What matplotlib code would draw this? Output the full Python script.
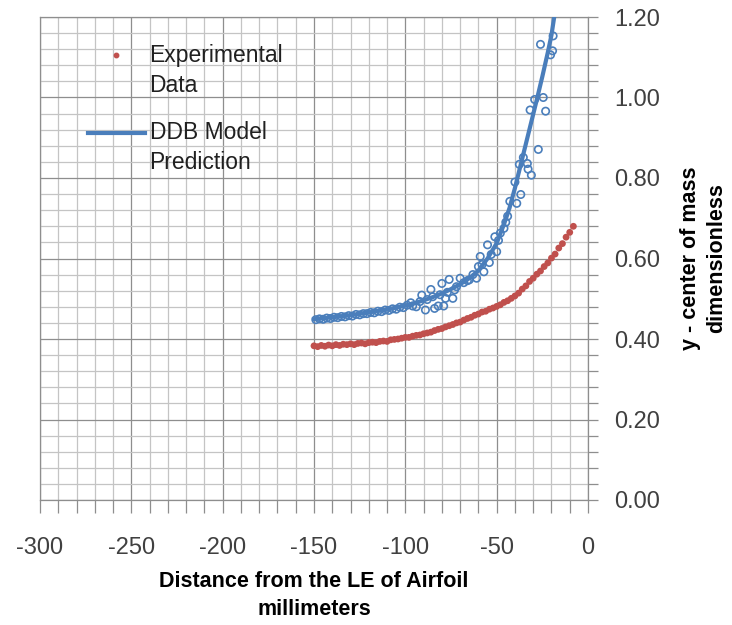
import matplotlib
matplotlib.use("Agg")
import matplotlib.pyplot as plt
from matplotlib.ticker import MultipleLocator, FormatStrFormatter

plt.rcParams['font.family'] = ['Liberation Sans', 'DejaVu Sans']
plt.rcParams['axes.unicode_minus'] = False

# experimental y-centre of mass along the chord (red dots)
exp_x = [-150, -148, -146, -144, -142, -140, -138, -136, -134, -132,
         -130, -128, -126, -124, -122, -120, -118, -116, -114, -112,
         -110, -108, -106, -104, -102, -100, -98, -96, -94, -92,
         -90, -88, -86, -84, -82, -80, -78, -76, -74, -72,
         -70, -68, -66, -64, -62, -60, -58, -56, -54, -52,
         -50, -48, -46, -44, -42, -40, -38, -36, -34, -32,
         -30, -28, -26, -24, -22, -20, -18, -16, -14, -12,
         -10, -8]
exp_y = [0.383, 0.381, 0.384, 0.382, 0.385, 0.383, 0.386, 0.384, 0.387, 0.386,
         0.388, 0.386, 0.389, 0.390, 0.388, 0.391, 0.392, 0.391, 0.394, 0.395,
         0.394, 0.398, 0.399, 0.400, 0.402, 0.404, 0.404, 0.407, 0.409, 0.410,
         0.413, 0.415, 0.417, 0.421, 0.424, 0.426, 0.430, 0.433, 0.436, 0.440,
         0.442, 0.447, 0.451, 0.454, 0.459, 0.462, 0.467, 0.469, 0.474, 0.477,
         0.481, 0.485, 0.491, 0.495, 0.501, 0.507, 0.514, 0.524, 0.532, 0.543,
         0.551, 0.561, 0.569, 0.580, 0.589, 0.601, 0.611, 0.626, 0.637, 0.653,
         0.665, 0.680]

# second measured set (open blue circles)
meas_x = [-149, -147, -145, -143, -141, -139, -137, -135, -133, -131,
          -129, -127, -125, -123, -121, -119, -117, -115, -113, -111,
          -109, -107, -105, -103, -101, -99, -97, -96, -94, -92,
          -91, -89, -88, -86, -85, -84, -82, -81, -80, -79,
          -78, -77, -76, -74, -73, -72, -70, -68, -66, -65,
          -63, -61, -60, -59, -58, -57, -55, -54, -53, -51,
          -50, -49, -48, -46, -45, -44, -42.8, -40, -39, -37.6,
          -36.8, -35.4, -33.2, -32.8, -31.7, -31, -29.2, -27.2, -26, -24.5,
          -23.2, -20.5, -19.4, -19.1]
meas_y = [0.448, 0.450, 0.449, 0.452, 0.451, 0.454, 0.453, 0.456, 0.455, 0.458,
          0.457, 0.461, 0.460, 0.463, 0.463, 0.466, 0.465, 0.469, 0.468, 0.472,
          0.471, 0.475, 0.474, 0.479, 0.478, 0.484, 0.490, 0.482, 0.480, 0.493,
          0.509, 0.472, 0.498, 0.523, 0.505, 0.476, 0.482, 0.510, 0.538, 0.482,
          0.501, 0.516, 0.548, 0.501, 0.522, 0.530, 0.551, 0.540, 0.545, 0.547,
          0.560, 0.551, 0.580, 0.605, 0.585, 0.567, 0.634, 0.590, 0.610, 0.654,
          0.617, 0.645, 0.663, 0.675, 0.690, 0.705, 0.742, 0.790, 0.737, 0.834,
          0.759, 0.851, 0.836, 0.822, 0.969, 0.807, 0.995, 0.871, 1.132, 1.000,
          0.966, 1.106, 1.116, 1.153]

# DDB model prediction (blue line)
model_x = [-150, -140, -130, -120, -110, -100, -95, -90, -85, -80,
           -75, -70, -65, -60, -55, -50, -46, -43, -40, -37,
           -34, -31, -28, -25, -22, -20, -18]
model_y = [0.449, 0.454, 0.459, 0.466, 0.473, 0.483, 0.489, 0.496, 0.504, 0.513,
           0.524, 0.536, 0.551, 0.570, 0.600, 0.638, 0.685, 0.725, 0.775, 0.830,
           0.885, 0.940, 0.995, 1.052, 1.112, 1.155, 1.215]

red = '#c0504d'
blue = '#4a7ebb'

fig = plt.figure(figsize=(7.32, 6.25), dpi=100)
ax = fig.add_axes([40/732, 1 - 500/625, 548/732, 483/625])

ax.scatter(meas_x, meas_y, s=28, facecolors='none', edgecolors=blue,
           linewidths=1.2, zorder=3)
ax.plot(model_x, model_y, color=blue, lw=3.0, zorder=4)
ax.scatter(exp_x, exp_y, s=24, color=red, edgecolors='none', zorder=5)

ax.set_xlim(-300, 0)
ax.set_ylim(0, 1.2)

# grid: light every 10 mm / 0.04, darker every 50 mm / 0.2
ax.xaxis.set_major_locator(MultipleLocator(50))
ax.xaxis.set_minor_locator(MultipleLocator(10))
ax.yaxis.set_major_locator(MultipleLocator(0.2))
ax.yaxis.set_minor_locator(MultipleLocator(0.04))
ax.yaxis.set_major_formatter(FormatStrFormatter('%.2f'))
ax.grid(which='minor', color='#c4c4c4', lw=0.9)
ax.grid(which='major', color='#8e8e8e', lw=0.9)
ax.set_axisbelow(True)

for s in ax.spines.values():
    s.set_color('#8e8e8e')
    s.set_linewidth(0.9)

ax.yaxis.tick_right()
ax.yaxis.set_label_position('right')
ax.tick_params(axis='x', which='both', direction='out', length=9,
               color='#8e8e8e', width=0.9, labelsize=17, pad=18,
               labelcolor='#404040')
ax.tick_params(axis='y', which='both', direction='out', length=7,
               color='#8e8e8e', width=0.9, labelsize=17, pad=12,
               labelcolor='#404040')

ax.set_xlabel('Distance from the LE of Airfoil\nmillimeters',
              fontsize=15.5, fontweight='bold', labelpad=8, linespacing=1.45)
ax.set_ylabel('y - center of mass\ndimensionless',
              fontsize=15.5, fontweight='bold', labelpad=14, linespacing=1.3)

# legend drawn by hand so the handle sits on the first text line
ax.plot([0.139], [0.921], 'o', ms=3.2, color=red, transform=ax.transAxes,
        clip_on=False)
ax.text(0.200, 0.921, 'Experimental', transform=ax.transAxes,
        fontsize=16.5, va='center', color='#202020')
ax.text(0.200, 0.859, 'Data', transform=ax.transAxes,
        fontsize=16.5, va='center', color='#202020')
ax.plot([0.0876, 0.1916], [0.760, 0.760], color=blue, lw=3.0,
        transform=ax.transAxes)
ax.text(0.200, 0.760, 'DDB Model', transform=ax.transAxes,
        fontsize=16.5, va='center', color='#202020')
ax.text(0.200, 0.698, 'Prediction', transform=ax.transAxes,
        fontsize=16.5, va='center', color='#202020')

fig.savefig('out.png', dpi=100)
